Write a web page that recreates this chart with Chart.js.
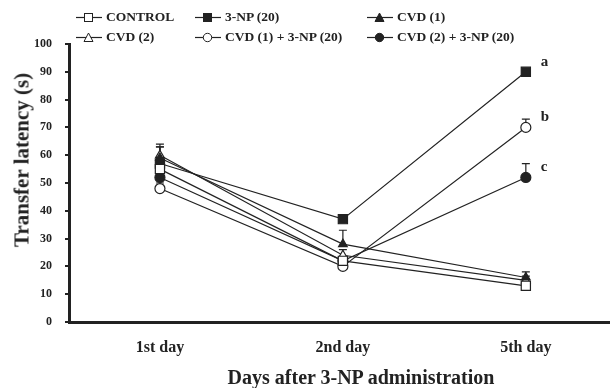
<!DOCTYPE html>
<html>
<head>
<meta charset="utf-8">
<script src="https://cdn.jsdelivr.net/npm/chart.js@4.4.1/dist/chart.umd.min.js"></script>
<style>
    body { margin:0; background:#fff; }
    #wrap { position:relative; width:610px; height:388px; font-family:'Liberation Serif', serif; font-weight:bold; color:#222; }
    #legend { position:absolute; left:0; top:0; width:610px; height:44px; font-size:13.5px; }
    .item { position:absolute; display:flex; align-items:center; white-space:nowrap; }
    .item svg { margin-right:4px; }
    .axis-title { position:absolute; white-space:nowrap; line-height:1; }
    #xTitle { left:361px; top:377px; font-size:20px; transform:translate(-50%, -50%); }
    #yTitle { left:22px; top:160px; font-size:21px; transform:translate(-50%, -50%) rotate(-90deg); }
</style>
</head>
<body>
<div id="wrap">
    <canvas id="chart" width="610" height="388"></canvas>
    <div id="legend"></div>
    <div class="axis-title" id="xTitle"></div>
    <div class="axis-title" id="yTitle"></div>
</div>
<script>
const days = ['1st day', '2nd day', '5th day'];
const yTicks = [0, 10, 20, 30, 40, 50, 60, 70, 80, 90, 100];
const xTitle = 'Days after 3-NP administration';
const yTitle = 'Transfer latency (s)';

const groupNames = ['CONTROL', '3-NP (20)', 'CVD (1)', 'CVD (2)', 'CVD (1) + 3-NP (20)', 'CVD (2) + 3-NP (20)'];
const controlVals = [55, 22, 13];
const npVals = [57, 37, 90];
const cvd1Vals = [59, 28, 16];
const cvd2Vals = [60, 24, 15];
const cvd1NpVals = [48, 20, 70];
const cvd2NpVals = [52, 22, 52];

const controlErr = [2, 1, 1];
const npErr = [7, 0, 0];
const cvd1Err = [4, 5, 2];
const cvd2Err = [3, 2, 1.5];
const cvd1NpErr = [2, 1.5, 3];
const cvd2NpErr = [2, 1.5, 5];

const sigLetters = ['', 'a', '', '', 'b', 'c'];

const ink = '#222';
const series = [
    { vals:controlVals, err:controlErr, shape:'rect', filled:false },
    { vals:npVals, err:npErr, shape:'rect', filled:true },
    { vals:cvd1Vals, err:cvd1Err, shape:'triangle', filled:true },
    { vals:cvd2Vals, err:cvd2Err, shape:'triangle', filled:false },
    { vals:cvd1NpVals, err:cvd1NpErr, shape:'circle', filled:false },
    { vals:cvd2NpVals, err:cvd2NpErr, shape:'circle', filled:true }
];

document.getElementById('xTitle').textContent = xTitle;
document.getElementById('yTitle').textContent = yTitle;

// legend in html, 3 columns x 2 rows
const legendSpots = [[76, 9], [195, 9], [367, 9], [76, 29], [195, 29], [367, 29]];

function markerSvg(s) {
    const fill = s.filled ? ink : '#fff';
    let mark = '';
    if (s.shape === 'rect') mark = `<rect x="8.5" y="3.5" width="8" height="8" fill="${fill}" stroke="${ink}"/>`;
    if (s.shape === 'triangle') mark = `<polygon points="12.5,3 17,11.5 8,11.5" fill="${fill}" stroke="${ink}"/>`;
    if (s.shape === 'circle') mark = `<circle cx="12.5" cy="7.5" r="4.2" fill="${fill}" stroke="${ink}"/>`;
    return `<svg width="26" height="15"><line x1="0" y1="7.5" x2="26" y2="7.5" stroke="${ink}" stroke-width="1.2"/>${mark}</svg>`;
}

document.getElementById('legend').innerHTML = series.map((s, i) => `
    <div class="item" style="left:${legendSpots[i][0]}px;top:${legendSpots[i][1]}px">
        ${markerSvg(s)}<span>${groupNames[i]}</span>
    </div>
`).join('');

const errorBars = {
    id:'errorBars',
    beforeDatasetsDraw(chart) {
        const ctx = chart.ctx;
        const y = chart.scales.y;
        ctx.save();
        ctx.strokeStyle = ink;
        ctx.lineWidth = 1.2;
        chart.data.datasets.forEach((ds, di) => {
            const meta = chart.getDatasetMeta(di);
            meta.data.forEach((pt, i) => {
                const e = series[di].err[i];
                if (!e) return;
                const top = y.getPixelForValue(series[di].vals[i] + e);
                ctx.beginPath();
                ctx.moveTo(pt.x, pt.y);
                ctx.lineTo(pt.x, top);
                ctx.moveTo(pt.x - 4, top);
                ctx.lineTo(pt.x + 4, top);
                ctx.stroke();
            });
        });
        ctx.restore();
    },
    afterDatasetsDraw(chart) {
        const ctx = chart.ctx;
        ctx.save();
        ctx.fillStyle = ink;
        ctx.font = 'bold 15px "Liberation Serif"';
        ctx.textBaseline = 'middle';
        sigLetters.forEach((letter, di) => {
            if (!letter) return;
            const pt = chart.getDatasetMeta(di).data[days.length - 1];
            ctx.fillText(letter, pt.x + 15, pt.y - 10);
        });
        ctx.restore();
    }
};

new Chart(document.getElementById('chart'), {
    type:'line',
    data:{
        datasets:series.map((s, i) => ({
            label:groupNames[i],
            data:s.vals.map((v, j) => ({ x:j, y:v })),
            borderColor:ink,
            borderWidth:1.2,
            pointStyle:s.shape,
            pointRadius:s.shape === 'rect' ? 6.5 : 5,
            pointBackgroundColor:s.filled ? ink : '#fff',
            pointBorderColor:ink,
            pointBorderWidth:1.2,
            tension:0
        }))
    },
    options:{
        responsive:false,
        animation:false,
        layout:{ autoPadding:false, padding:{ top:44, right:0, bottom:0, left:0 } },
        plugins:{ legend:{ display:false }, tooltip:{ enabled:false } },
        scales:{
            x:{
                type:'linear',
                min:-0.497,
                max:2.46,
                afterBuildTicks(scale) { scale.ticks = days.map((d, i) => ({ value:i })); },
                afterFit(scale) {
                    scale.height = 66;
                    scale.paddingLeft = 0;
                    scale.paddingRight = 0;
                },
                ticks:{
                    callback:v => days[v],
                    color:ink,
                    padding:16,
                    maxRotation:0,
                    font:{ family:'Liberation Serif', weight:'bold', size:16 }
                },
                grid:{ display:false, drawTicks:false },
                border:{ color:ink, width:3 }
            },
            y:{
                min:0,
                max:100,
                afterBuildTicks(scale) { scale.ticks = yTicks.map(v => ({ value:v })); },
                afterFit(scale) { scale.width = 69; },
                ticks:{
                    color:ink,
                    padding:13,
                    font:{ family:'Liberation Serif', weight:'bold', size:12 }
                },
                grid:{ drawOnChartArea:false, drawTicks:true, tickLength:4, color:ink, lineWidth:2 },
                border:{ color:ink, width:3 }
            }
        }
    },
    plugins:[errorBars]
});
</script>
</body>
</html>
